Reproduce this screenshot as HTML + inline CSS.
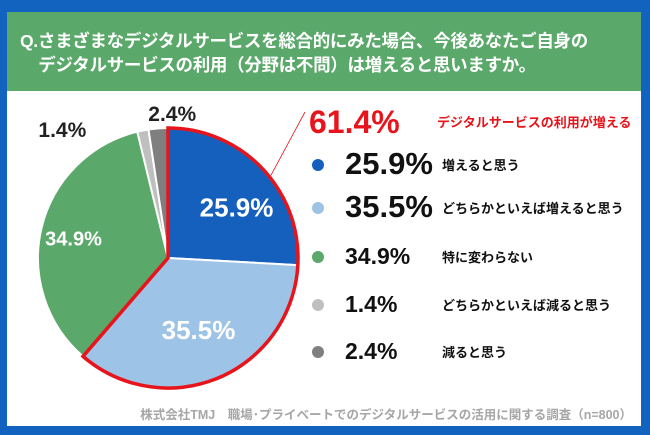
<!DOCTYPE html>
<html><head><meta charset="utf-8"><style>
body{margin:0;width:650px;height:435px;overflow:hidden;font-family:"Liberation Sans","Noto Sans CJK JP",sans-serif}
#frame{position:absolute;left:0;top:0;width:650px;height:435px;background:#1262bf}
#inner{position:absolute;left:7px;top:12px;width:634px;height:414px;background:#fff}
#header{position:absolute;left:7px;top:12px;width:634px;height:79px;background:#5aa86a;color:#fff;font-weight:bold;font-size:17.5px;letter-spacing:-0.3px;line-height:24px;box-sizing:border-box;padding:17px 0 0 13px;white-space:nowrap}
.t{position:absolute;font-weight:bold;white-space:nowrap}
</style></head><body>
<div id="frame"></div>
<div id="inner"></div>
<div id="header">Q.さまざまなデジタルサービスを総合的にみた場合、今後あなたご自身の<br>&nbsp;&nbsp;&nbsp;&nbsp;デジタルサービスの利用（分野は不問）は増えると思いますか。</div>
<svg id="pie" width="650" height="435" style="position:absolute;left:0;top:0"></svg>
<div class="t" style="left:309px;top:104px;font-size:32px;color:#e8141b">61.4%</div>
<div class="t" style="left:437px;top:112px;font-size:13px;color:#e8141b">デジタルサービスの利用が増える</div>
<div id="legend"></div>
<div class="t" style="right:18px;top:404px;font-size:12.5px;color:#a6a6a6">株式会社TMJ　職場･プライベートでのデジタルサービスの活用に関する調査（n=800）</div>
<script>
const categories=["増えると思う","どちらかといえば増えると思う","特に変わらない","どちらかといえば減ると思う","減ると思う"];
const values=[25.9,35.5,34.9,1.4,2.4];
const colors=["#1560bd","#9dc3e6","#5aa86a","#bfbfbf","#7f7f7f"];
const ns="http://www.w3.org/2000/svg";
const svg=document.getElementById('pie');
const cx=168,cy=258,R=130;
const total=values.reduce((a,b)=>a+b,0);
function pt(f,r){const a=f*2*Math.PI-Math.PI/2;return[cx+r*Math.cos(a),cy+r*Math.sin(a)];}
let acc=0;const starts=[];
values.forEach((v,i)=>{
  const f0=acc/total,f1=(acc+v)/total;starts.push(f0);
  const p0=pt(f0,R),p1=pt(f1,R);
  const path=document.createElementNS(ns,'path');
  path.setAttribute('d',`M${cx},${cy}L${p0[0]},${p0[1]}A${R},${R} 0 ${f1-f0>0.5?1:0} 1 ${p1[0]},${p1[1]}Z`);
  path.setAttribute('fill',colors[i]);path.setAttribute('stroke','#fff');path.setAttribute('stroke-width','2');
  
  
  svg.appendChild(path);
  acc+=v;
});
{const f1=(values[0]+values[1])/total;const p0=pt(0,R),p1=pt(f1,R);
const o=document.createElementNS(ns,'path');
o.setAttribute('d',`M${cx},${cy}L${p0[0]},${p0[1]}A${R},${R} 0 ${f1>0.5?1:0} 1 ${p1[0]},${p1[1]}Z`);
o.setAttribute('fill','none');o.setAttribute('stroke','#e8141b');o.setAttribute('stroke-width','3.5');


svg.appendChild(o);
const lp=pt(values[0]/total*0.55,R+2);
const ln=document.createElementNS(ns,'line');
ln.setAttribute('x1',lp[0]);ln.setAttribute('y1',lp[1]);ln.setAttribute('x2',305);ln.setAttribute('y2',112);
ln.setAttribute('stroke','#e8141b');ln.setAttribute('stroke-width','0.8');


svg.appendChild(ln);}
const lab=[{r:0.62,fs:26,c:'#fff',dx:10,dy:5},{r:0.6,fs:26,c:'#fff',dx:0,dy:0},{r:0.7,fs:20,c:'#fff',dx:-6,dy:2},{r:1.1,fs:21,c:'#222',dx:-78,dy:12},{r:1.1,fs:21,c:'#222',dx:15,dy:-2}];
values.forEach((v,i)=>{
  const mid=(starts[i]+v/total/2);let p=pt(mid,R*lab[i].r);
  p=[p[0]+lab[i].dx,p[1]+lab[i].dy];
  const t=document.createElementNS(ns,'text');
  t.setAttribute('x',p[0]);t.setAttribute('y',p[1]+lab[i].fs*0.35);t.setAttribute('text-anchor','middle');
  t.setAttribute('font-size',lab[i].fs);t.setAttribute('font-weight','bold');t.setAttribute('fill',lab[i].c);
  t.setAttribute('font-family','Liberation Sans, sans-serif');
  t.textContent=v.toFixed(1)+'%';
  
  
  svg.appendChild(t);
});
const rowY=[165,208,257,305,352];const vfs=[31,31,23,23,23];
const lg=document.getElementById('legend');
values.forEach((v,i)=>{
  const d=document.createElement('div');
  d.style.cssText=`position:absolute;left:312px;top:${rowY[i]-6}px;width:12px;height:12px;border-radius:50%;background:${colors[i]}`;
  
  
  lg.appendChild(d);
  const n=document.createElement('div');n.className='t';
  n.style.cssText=`left:345px;top:${rowY[i]-vfs[i]*0.6}px;font-size:${vfs[i]}px;color:#111`;
  n.textContent=v.toFixed(1)+'%';
  
  
  lg.appendChild(n);
  const l=document.createElement('div');l.className='t';
  l.style.cssText=`left:442px;top:${rowY[i]-10}px;font-size:13px;color:#111`;
  l.textContent=categories[i];
  
  
  lg.appendChild(l);
});
</script>
</body></html>
